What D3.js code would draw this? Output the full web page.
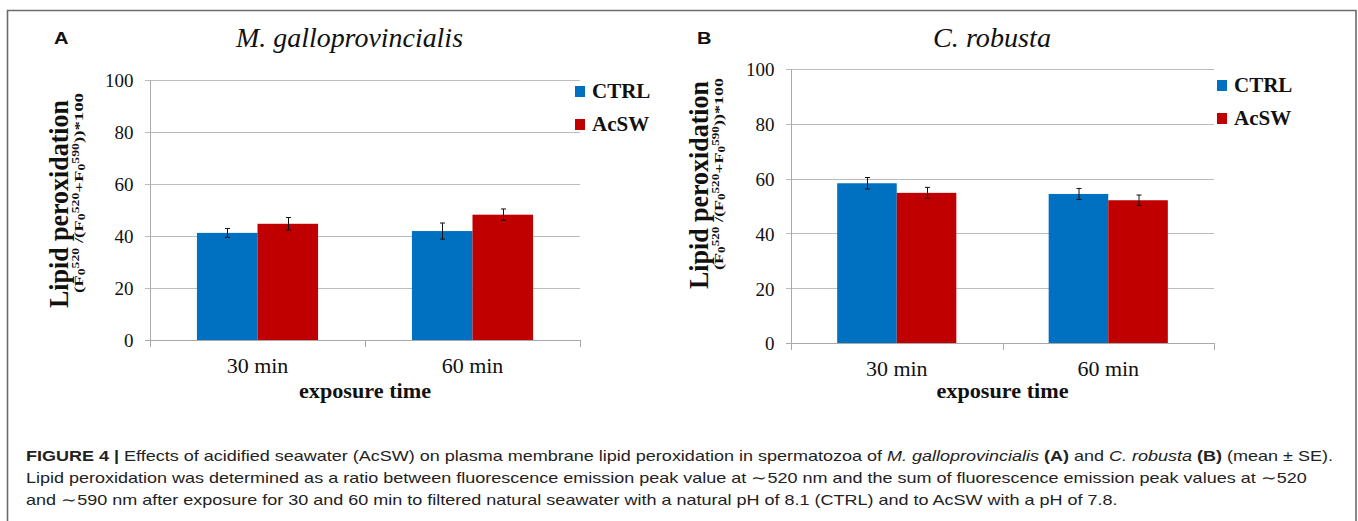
<!DOCTYPE html>
<html>
<head>
<meta charset="utf-8">
<script src="https://cdn.jsdelivr.net/npm/d3@7"></script>
<style>
  html, body { margin: 0; padding: 0; background: #fff; }
  svg { display: block; }
</style>
</head>
<body>
<script>
const categories = ["30 min", "60 min"];
const seriesNames = ["CTRL", "AcSW"];
const yTicks = [0, 20, 40, 60, 80, 100];

// panel A - M. galloprovincialis (mean, SE)
const musselCtrl = [41.2, 41.9];
const musselCtrlSE = [1.7, 3.1];
const musselAcsw = [44.7, 48.2];
const musselAcswSE = [2.4, 2.2];

// panel B - C. robusta (mean, SE)
const cionaCtrl = [58.3, 54.4];
const cionaCtrlSE = [2.1, 2.0];
const cionaAcsw = [54.8, 52.1];
const cionaAcswSE = [2.0, 1.9];

const colors = ["#0070C0", "#C00000"];
const serif = "'Liberation Serif', 'Times New Roman', serif";
const sans = "'Liberation Sans', Arial, sans-serif";

const width = 1358;
const height = 521;

const svg = d3.select("body").append("svg")
    .attr("width", width)
    .attr("height", height);

// outer frame (no bottom edge, picture is cut there)
svg.append("path")
    .attr("d", `M7.5,${height} V10.5 H1356 V${height}`)
    .attr("fill", "none")
    .attr("stroke", "#6b6b6b")
    .attr("stroke-width", 1.6);

const drawPanel = (p) => {
  const g = svg.append("g");

  const x0 = d3.scaleBand()
      .domain(categories)
      .range([p.left, p.right])
      .paddingInner(0)
      .paddingOuter(0);

  const x1 = d3.scaleBand()
      .domain(seriesNames)
      .range([0, x0.bandwidth()])
      .paddingInner(0)
      .paddingOuter(0.775);

  const y = d3.scaleLinear()
      .domain([0, 100])
      .range([p.bottom, p.top]);

  // gridlines
  g.append("g")
    .selectAll("line")
    .data(yTicks.filter(d => d > 0))
    .join("line")
      .attr("x1", p.left - 5)
      .attr("x2", p.right)
      .attr("y1", d => Math.round(y(d)) + 0.5)
      .attr("y2", d => Math.round(y(d)) + 0.5)
      .attr("stroke", "#bcbcbc")
      .attr("stroke-width", 1);

  // y axis
  const yAxis = d3.axisLeft(y)
      .tickValues(yTicks)
      .tickSize(0)
      .tickPadding(16.5);

  const yAxisG = g.append("g")
      .attr("transform", `translate(${p.left},0)`)
      .call(yAxis);
  yAxisG.select(".domain").remove();
  yAxisG.selectAll("text")
      .attr("font-family", serif)
      .attr("font-size", 19)
      .attr("fill", "#111")
      .attr("dy", "0.36em");

  g.append("line")
      .attr("x1", p.left + 0.5).attr("x2", p.left + 0.5)
      .attr("y1", p.top).attr("y2", p.bottom + 7)
      .attr("stroke", "#a9a9a9");

  // bars
  const rows = categories.map((c, i) => ({
    cat: c,
    values: seriesNames.map((s, j) => ({
      series: s,
      idx: j,
      value: p.values[j][i],
      se: p.errors[j][i]
    }))
  }));

  const groups = g.append("g")
    .selectAll("g")
    .data(rows)
    .join("g")
      .attr("transform", d => `translate(${x0(d.cat)},0)`);

  groups.selectAll("rect")
    .data(d => d.values)
    .join("rect")
      .attr("x", d => x1(d.series))
      .attr("width", x1.bandwidth())
      .attr("y", d => y(d.value))
      .attr("height", d => y(0) - y(d.value))
      .attr("fill", d => colors[d.idx]);

  // error bars
  const err = groups.selectAll("g.err")
    .data(d => d.values)
    .join("g")
      .attr("class", "err")
      .attr("stroke", "#111")
      .attr("stroke-width", 1);

  const cx = d => Math.round(x1(d.series) + x1.bandwidth() / 2) + 0.5;
  err.append("line")
      .attr("x1", cx).attr("x2", cx)
      .attr("y1", d => y(d.value + d.se))
      .attr("y2", d => y(d.value - d.se));
  err.append("line")
      .attr("x1", d => cx(d) - 2.5).attr("x2", d => cx(d) + 2.5)
      .attr("y1", d => y(d.value + d.se)).attr("y2", d => y(d.value + d.se));
  err.append("line")
      .attr("x1", d => cx(d) - 2.5).attr("x2", d => cx(d) + 2.5)
      .attr("y1", d => y(d.value - d.se)).attr("y2", d => y(d.value - d.se));

  // x axis line and category separators
  g.append("line")
      .attr("x1", p.left - 5).attr("x2", p.right)
      .attr("y1", Math.round(y(0)) + 0.5).attr("y2", Math.round(y(0)) + 0.5)
      .attr("stroke", "#a9a9a9");

  g.append("g")
    .selectAll("line")
    .data(categories.slice(1).map(c => x0(c)).concat([p.right]))
    .join("line")
      .attr("x1", d => Math.round(d) + 0.5).attr("x2", d => Math.round(d) + 0.5)
      .attr("y1", y(0)).attr("y2", y(0) + 7)
      .attr("stroke", "#a9a9a9");

  g.append("g")
    .selectAll("text")
    .data(categories)
    .join("text")
      .attr("x", d => x0(d) + x0.bandwidth() / 2)
      .attr("y", p.catY)
      .attr("text-anchor", "middle")
      .attr("font-family", serif)
      .attr("font-size", 22)
      .attr("fill", "#111")
      .text(d => d);

  g.append("text")
      .attr("x", x0.range()[0] + (x0.range()[1] - x0.range()[0]) / 2)
      .attr("y", 398)
      .attr("text-anchor", "middle")
      .attr("font-family", serif)
      .attr("font-weight", "bold")
      .attr("font-size", 21)
      .attr("textLength", 132)
      .attr("lengthAdjust", "spacingAndGlyphs")
      .attr("fill", "#111")
      .text("exposure time");

  // panel letter and title
  g.append("text")
      .attr("x", p.letterX)
      .attr("y", 43.5)
      .attr("font-family", sans)
      .attr("font-weight", "bold")
      .attr("font-size", 17)
      .attr("textLength", 14.5)
      .attr("lengthAdjust", "spacingAndGlyphs")
      .attr("fill", "#111")
      .text(p.letter);

  g.append("text")
      .attr("x", p.titleX)
      .attr("y", 46.5)
      .attr("text-anchor", "middle")
      .attr("font-family", serif)
      .attr("font-style", "italic")
      .attr("font-size", 27)
      .attr("textLength", p.titleLen)
      .attr("lengthAdjust", "spacingAndGlyphs")
      .attr("fill", "#111")
      .text(p.title);

  // y axis titles
  g.append("text")
      .attr("transform", `translate(${p.yTitleX},${p.yTitleCy}) rotate(-90)`)
      .attr("text-anchor", "middle")
      .attr("font-family", serif)
      .attr("font-weight", "bold")
      .attr("font-size", 27)
      .attr("textLength", 208)
      .attr("lengthAdjust", "spacingAndGlyphs")
      .attr("fill", "#111")
      .text("Lipid peroxidation");

  const sub = g.append("text")
      .attr("transform", `translate(${p.yTitleX + 14.5},${p.yTitleCy - 11}) rotate(-90)`)
      .attr("text-anchor", "middle")
      .attr("font-family", serif)
      .attr("font-weight", "bold")
      .attr("font-size", 13)
      .attr("textLength", p.subLen)
      .attr("lengthAdjust", "spacingAndGlyphs")
      .attr("fill", "#111");

  // [text, size, dy]
  const parts = [
    ["(F", 13, 0], ["0", 9.5, 2.5], ["520", 9.5, -6], [" /(F", 13, 3.5],
    ["0", 9.5, 2.5], ["520", 9.5, -6], ["+F", 13, 3.5],
    ["0", 9.5, 2.5], ["590", 9.5, -6], ["))*100", 13, 3.5]
  ];
  sub.selectAll("tspan")
    .data(parts)
    .join("tspan")
      .attr("font-size", d => d[1])
      .attr("dy", d => d[2])
      .text(d => d[0]);

  // legend
  const legend = g.append("g")
    .selectAll("g")
    .data(seriesNames)
    .join("g")
      .attr("transform", (d, i) => `translate(${p.legendX},${p.legendY + i * p.legendStep})`);

  legend.append("rect")
      .attr("x", 0)
      .attr("y", -12)
      .attr("width", 10)
      .attr("height", 11)
      .attr("fill", (d, i) => colors[i]);

  legend.append("text")
      .attr("x", 17)
      .attr("y", 0)
      .attr("font-family", serif)
      .attr("font-weight", "bold")
      .attr("font-size", 21)
      .attr("fill", "#111")
      .text(d => d);
};

drawPanel({
  letter: "A", letterX: 54,
  title: "M. galloprovincialis", titleX: 349.5, titleLen: 227,
  left: 150, right: 580, top: 80, bottom: 340,
  values: [musselCtrl, musselAcsw],
  errors: [musselCtrlSE, musselAcswSE],
  catY: 373,
  yTitleX: 68, yTitleCy: 204, subLen: 200,
  legendX: 575, legendY: 98, legendStep: 33
});

drawPanel({
  letter: "B", letterX: 697,
  title: "C. robusta", titleX: 992, titleLen: 118,
  left: 791, right: 1214, top: 69, bottom: 343,
  values: [cionaCtrl, cionaAcsw],
  errors: [cionaCtrlSE, cionaAcswSE],
  catY: 376,
  yTitleX: 708, yTitleCy: 185, subLen: 192,
  legendX: 1217, legendY: 92, legendStep: 33
});

// figure caption
const captionLines = [
  {
    y: 461,
    parts: [
      ["FIGURE 4 |", "bold", "normal"],
      [" Effects of acidified seawater (AcSW) on plasma membrane lipid peroxidation in spermatozoa of ", "normal", "normal"],
      ["M. galloprovincialis", "normal", "italic"],
      [" ", "normal", "normal"],
      ["(A)", "bold", "normal"],
      [" and ", "normal", "normal"],
      ["C. robusta", "normal", "italic"],
      [" ", "normal", "normal"],
      ["(B)", "bold", "normal"],
      [" (mean \u00b1 SE).", "normal", "normal"]
    ]
  },
  {
    y: 483,
    parts: [["Lipid peroxidation was determined as a ratio between fluorescence emission peak value at \u223c520 nm and the sum of fluorescence emission peak values at \u223c520", "normal", "normal"]]
  },
  {
    y: 505,
    parts: [["and \u223c590 nm after exposure for 30 and 60 min to filtered natural seawater with a natural pH of 8.1 (CTRL) and to AcSW with a pH of 7.8.", "normal", "normal"]]
  }
];

const caption = svg.append("g")
    .attr("font-family", sans)
    .attr("font-size", 14.5)
    .attr("fill", "#222");

const captionTexts = captionLines.map(line => {
  const t = caption.append("text")
      .attr("x", 26)
      .attr("y", line.y)
      .style("white-space", "pre");
  t.selectAll("tspan")
    .data(line.parts)
    .join("tspan")
      .attr("font-weight", d => d[1])
      .attr("font-style", d => d[2])
      .text(d => d[0]);
  return t;
});

// first line spans the frame, stretch every line by the same factor
const firstWidth = captionTexts[0].node().getComputedTextLength();
const stretch = 1307 / firstWidth;
captionTexts.forEach(t => {
  const w = t.node().getComputedTextLength();
  t.attr("textLength", w * stretch)
   .attr("lengthAdjust", "spacingAndGlyphs");
});
</script>
</body>
</html>
